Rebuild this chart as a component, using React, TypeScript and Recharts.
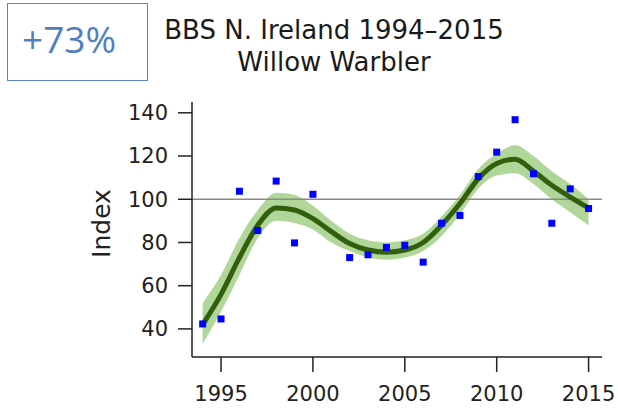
import React from 'react';
import { ComposedChart, Area, Line, Scatter, XAxis, YAxis, ReferenceLine } from 'recharts';

const years = [1994, 1995, 1996, 1997, 1998, 1999, 2000, 2001, 2002, 2003, 2004, 2005, 2006, 2007, 2008, 2009, 2010, 2011, 2012, 2013, 2014, 2015];
const trend = [42, 56, 73, 88, 96, 95, 91, 85, 79.5, 76.5, 75.5, 76.5, 80, 88, 98, 109.5, 116.5, 118.5, 113, 106.5, 101, 96];
const lower = [33, 48, 65, 82, 90, 89, 86, 80, 76, 73, 72, 73, 76, 83, 93, 105, 111, 112, 107, 100, 94, 88];
const upper = [52, 65, 82, 95, 103, 102, 97, 90, 84, 81, 80, 81, 84, 92, 102, 114, 121, 125, 120, 113, 107, 100];

const obsYears = [1994, 1995, 1996, 1997, 1998, 1999, 2000, 2002, 2003, 2004, 2005, 2006, 2007, 2008, 2009, 2010, 2011, 2012, 2013, 2014, 2015];
const obsIndex = [42.3, 44.6, 103.7, 85.5, 108.4, 79.8, 102.3, 73, 74.3, 77.7, 78.7, 70.9, 88.9, 92.5, 110.5, 121.8, 136.8, 111.8, 88.9, 104.8, 95.7];

const xTicks = [1995, 2000, 2005, 2010, 2015];
const yTicks = [40, 60, 80, 100, 120, 140];

const data = years.map((year, i) => ({ year, trend: trend[i], band: [lower[i], upper[i]] }));
const points = obsYears.map((year, i) => ({ year, index: obsIndex[i] }));

const font = '"DejaVu Sans", Verdana, sans-serif';

const Square = (props: any) => {
    const { cx, cy } = props;
    if (cx == null || cy == null) return null;
    return <rect x={cx - 3.5} y={cy - 3.5} width={7} height={7} fill="#0000ff" />;
};

const IndexLabel = (props: any) => {
    const vb = props.viewBox || {};
    const x = (vb.x || 0) + (vb.width || 192) - 91;
    const y = (vb.y || 102) + (vb.height || 255) / 2 - 6;
    return (
        <text x={x} y={y} transform={`rotate(-90 ${x} ${y})`} textAnchor="middle" dominantBaseline="central"
            fill="#222" fontSize={25} fontFamily={font}>Index</text>
    );
};

export default function App() {
    return (
        <div style={{ position: 'absolute', left: 0, top: 0, width: 618, height: 414, background: '#fff' }}>
            <div style={{
                position: 'absolute', left: 7, top: 3, width: 141, height: 78,
                border: '1.5px solid #5b84c4', color: '#4f7fc0',
                fontFamily: '"Open Sans", sans-serif', fontSize: 37, lineHeight: '70px',
                paddingLeft: 14, boxSizing: 'border-box',
            }}>+73%</div>
            <div style={{
                position: 'absolute', left: 134, width: 400, top: 14, textAlign: 'center',
                fontFamily: font, fontSize: 26, lineHeight: '32px', color: '#1a1a1a',
            }}>
                <div>BBS N. Ireland 1994–2015</div>
                <div>Willow Warbler</div>
            </div>
            <ComposedChart
                width={618}
                height={414}
                data={data}
                margin={{ top: 102, right: 16, bottom: 0, left: 0 }}
            >
                <XAxis
                    dataKey="year"
                    type="number"
                    domain={[1993.42, 2015.73]}
                    ticks={xTicks}
                    height={57}
                    tickSize={15}
                    tickMargin={14}
                    tick={{ fill: '#222', fontSize: 21, fontFamily: font }}
                    stroke="#222"
                    strokeWidth={1.5}
                    allowDataOverflow
                />
                <YAxis
                    type="number"
                    domain={[27, 145]}
                    ticks={yTicks}
                    width={192}
                    tickSize={14}
                    tickMargin={10}
                    tick={{ fill: '#222', fontSize: 21, fontFamily: font }}
                    stroke="#222"
                    strokeWidth={1.5}
                    allowDataOverflow
                    label={<IndexLabel />}
                />
                <ReferenceLine y={100} stroke="#8a8a8a" strokeWidth={1.5} />
                <Area
                    type="monotone"
                    dataKey="band"
                    stroke="none"
                    fill="#a9d18e"
                    fillOpacity={0.9}
                    isAnimationActive={false}
                />
                <Line
                    type="monotone"
                    dataKey="trend"
                    stroke="#325f0c"
                    strokeWidth={5}
                    dot={false}
                    isAnimationActive={false}
                />
                <Scatter data={points} dataKey="index" shape={<Square />} isAnimationActive={false} />
            </ComposedChart>
        </div>
    );
}
